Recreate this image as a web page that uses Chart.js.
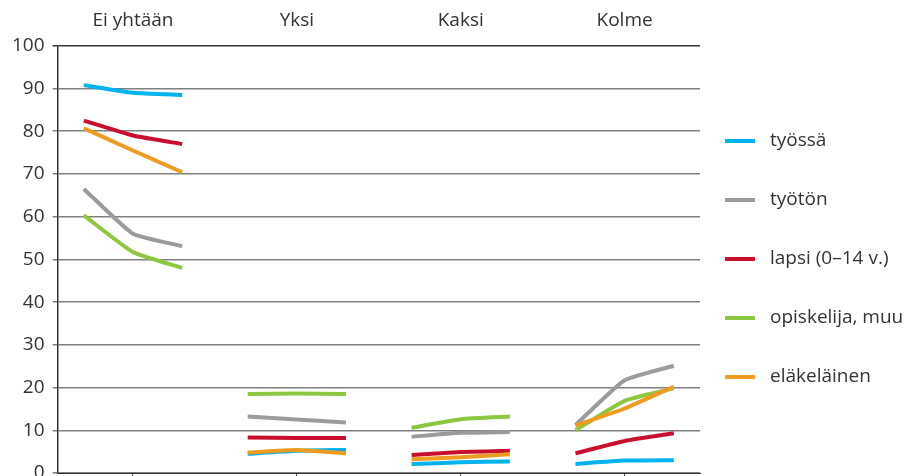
<!DOCTYPE html>
<html>
<head>
<meta charset="utf-8">
<script src="https://cdn.jsdelivr.net/npm/chart.js@4.4.1/dist/chart.umd.min.js"></script>
<style>
  html, body { margin: 0; padding: 0; background: #fff; }
  #wrap { width: 915px; height: 476px; }
</style>
</head>
<body>
<div id="wrap"><canvas id="chart"></canvas></div>
<script>
// groups along the x axis, three observations in each
const groups = ['Ei yhtään', 'Yksi', 'Kaksi', 'Kolme'];
const seriesNames = ['työssä', 'työtön', 'lapsi (0–14 v.)', 'opiskelija, muu', 'eläkeläinen'];

// values per group (%)
const tyossa      = [[90.8, 89.0, 88.5], [4.5, 5.2, 5.4], [2.1, 2.5, 2.7], [2.1, 2.9, 3.0]];
const tyoton      = [[66.5, 56.0, 53.1], [13.2, 12.5, 11.8], [8.5, 9.4, 9.6], [11.2, 21.7, 25.1]];
const lapsi       = [[82.5, 79.0, 77.0], [8.3, 8.2, 8.2], [4.2, 4.9, 5.2], [4.6, 7.5, 9.3]];
const opiskelija  = [[60.3, 51.7, 48.0], [18.5, 18.6, 18.5], [10.6, 12.6, 13.2], [10.0, 16.9, 19.8]];
const elakelainen = [[80.7, 75.5, 70.4], [4.8, 5.4, 4.6], [3.2, 3.7, 4.4], [11.1, 15.1, 20.2]];

const yTicks = [0, 10, 20, 30, 40, 50, 60, 70, 80, 90, 100];

const colors = ['#00b2ee', '#9b9b9e', '#c8102e', '#8dc63f', '#ee9b22'];
const allSeries = [tyossa, tyoton, lapsi, opiskelija, elakelainen];

// turn group arrays into x/y points, with a gap between groups
function toPoints(groupVals) {
    const pts = [];
    groupVals.forEach((vals, g) => {
        vals.forEach((v, k) => pts.push({ x: g + (k - 1) * 0.3, y: v }));
        pts.push({ x: g + 0.5, y: null });
    });
    return pts;
}

const datasets = allSeries.map((s, i) => ({
    label: seriesNames[i],
    data: toPoints(s),
    borderColor: colors[i],
    backgroundColor: colors[i],
    borderWidth: 4,
    pointRadius: 0,
    tension: 0.15,
    spanGaps: false,
    order: allSeries.length - i // last series on top
}));

const textColor = '#333';
const fontFam = '"Open Sans", sans-serif';

// legend on the right: short line + label, evenly spaced around the plot's middle
const sideLegend = {
    id: 'sideLegend',
    afterDraw(chart) {
        const { ctx, chartArea } = chart;
        const step = 59;
        const n = chart.data.datasets.length;
        const mid = (chartArea.top + chartArea.bottom) / 2;
        const x0 = chartArea.right + 25;
        ctx.save();
        ctx.font = '19px ' + fontFam;
        ctx.textBaseline = 'middle';
        ctx.fillStyle = textColor;
        chart.data.datasets.forEach((ds, i) => {
            const y = Math.round(mid + (i - (n - 1) / 2) * step);
            ctx.strokeStyle = ds.borderColor;
            ctx.lineWidth = 4;
            ctx.beginPath();
            ctx.moveTo(x0, y);
            ctx.lineTo(x0 + 30, y);
            ctx.stroke();
            ctx.fillText(ds.label, x0 + 45, y);
        });
        ctx.restore();
    }
};

new Chart(document.getElementById('chart'), {
    type: 'line',
    data: { datasets },
    plugins: [sideLegend],
    options: {
        responsive: true,
        maintainAspectRatio: false,
        animation: false,
        layout: { padding: { top: 3, left: 4, right: 215, bottom: 0 } },
        plugins: {
            tooltip: { enabled: false },
            legend: { display: false }
        },
        scales: {
            x: {
                type: 'linear',
                min: -0.46,
                max: 3.46,
                afterBuildTicks: (axis) => { axis.ticks = groups.map((_, i) => ({ value: i })); },
                ticks: { display: false },
                grid: { drawOnChartArea: false, drawTicks: true, tickLength: 3, color: '#444' },
                border: { color: '#333', width: 1 }
            },
            xTop: {
                type: 'linear',
                position: 'top',
                min: -0.46,
                max: 3.46,
                afterBuildTicks: (axis) => { axis.ticks = groups.map((_, i) => ({ value: i })); },
                ticks: {
                    color: textColor,
                    font: { family: fontFam, size: 19 },
                    padding: 6,
                    maxRotation: 0,
                    callback: (v) => groups[Math.round(v)]
                },
                grid: { display: false },
                border: { display: false }
            },
            y: {
                min: 0,
                max: 100,
                afterBuildTicks: (axis) => { axis.ticks = yTicks.map(v => ({ value: v })); },
                afterFit: (axis) => { axis.paddingBottom = 0; },
                ticks: {
                    color: textColor,
                    font: { family: fontFam, size: 19 },
                    padding: 8
                },
                grid: {
                    color: (ctx) => ctx.tick && ctx.tick.value === 100 ? '#333' : '#808080',
                    lineWidth: 1.5,
                    tickLength: 5
                },
                border: { color: '#333', width: 1.5 }
            }
        }
    }
});
</script>
</body>
</html>
